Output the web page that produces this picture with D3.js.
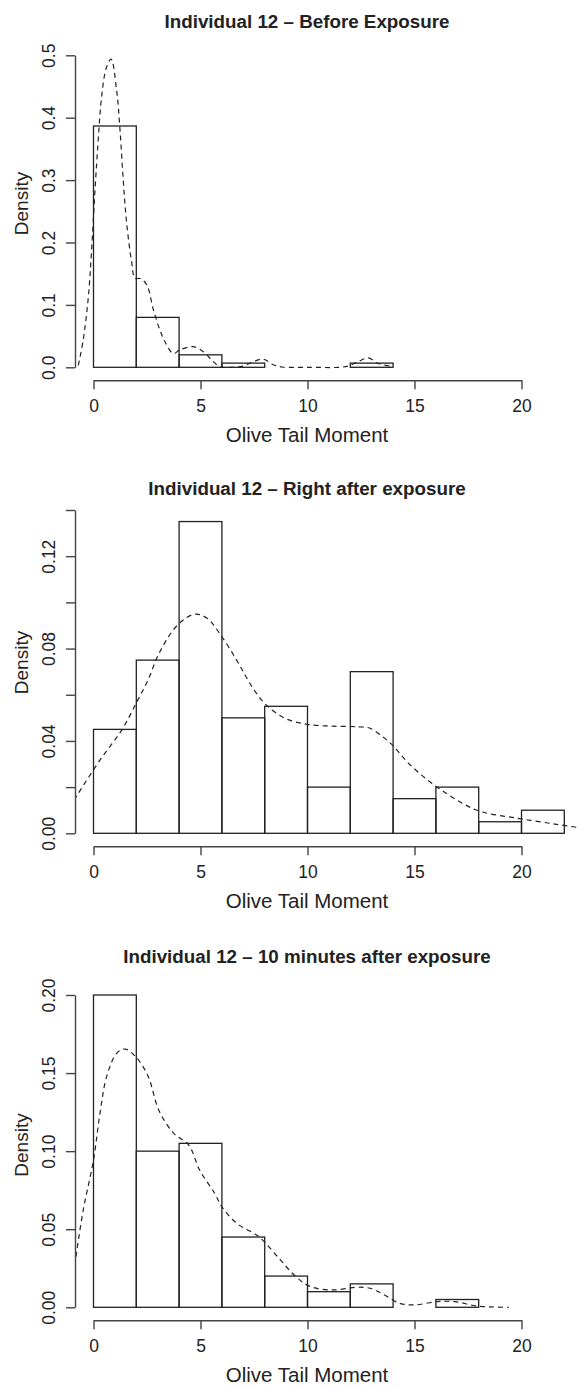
<!DOCTYPE html>
<html>
<head>
<meta charset="utf-8">
<script src="https://cdn.jsdelivr.net/npm/d3@7"></script>
<style>
body { margin: 0; background: #fff; }
text { font-family: "Liberation Sans", Arial, Helvetica, sans-serif; fill: #222; }
</style>
</head>
<body>
<svg id="chart" width="580" height="1387"></svg>
<script>
// histogram bins are 2 units wide, starting at 0
var binWidth = 2;
var xTicks = [0, 5, 10, 15, 20];

// panel 1 - before exposure
var title1 = "Individual 12 \u2013 Before Exposure";
var bars1 = [0.3867, 0.08, 0.02, 0.0067, 0, 0, 0.0067];
var kdeX1 = [-0.71, -0.48, -0.24, -0.08, 0.07, 0.22, 0.38, 0.6, 0.82, 1.08, 1.24, 1.39, 1.55, 1.79, 1.94, 2.2, 2.49, 2.8, 3.1, 3.34, 3.73, 4.04, 4.66, 5.13, 5.6, 5.91, 6.5, 7.0, 7.47, 7.93, 8.4, 8.8, 10, 11.5, 11.9, 12.36, 12.84, 13.3, 13.86];
var kdeY1 = [0.003, 0.044, 0.113, 0.193, 0.284, 0.364, 0.434, 0.48, 0.494, 0.444, 0.38, 0.30, 0.231, 0.167, 0.143, 0.142, 0.132, 0.092, 0.060, 0.041, 0.022, 0.028, 0.033, 0.025, 0.009, 0.001, 0, 0.002, 0.009, 0.013, 0.004, 0.0005, 0, 0, 0.002, 0.009, 0.015, 0.006, 0.002];
var yTicks1 = [0, 0.1, 0.2, 0.3, 0.4, 0.5];
var yLabels1 = ["0.0", "0.1", "0.2", "0.3", "0.4", "0.5"];

// panel 2 - right after exposure
var title2 = "Individual 12 \u2013 Right after exposure";
var bars2 = [0.045, 0.075, 0.135, 0.05, 0.055, 0.02, 0.07, 0.015, 0.02, 0.005, 0.01];
var kdeX2 = [-0.91, 0.3, 1.32, 2.03, 2.55, 3.06, 3.93, 4.74, 5.31, 6.0, 6.69, 7.13, 7.56, 8.08, 8.94, 9.98, 11.19, 12.4, 12.92, 13.61, 14.04, 14.65, 15.51, 16.37, 17.24, 18.1, 19.83, 21.56, 22.73];
var kdeY2 = [0.0144, 0.0317, 0.0447, 0.057, 0.0664, 0.0779, 0.0902, 0.0949, 0.0931, 0.0851, 0.075, 0.0678, 0.0613, 0.0555, 0.0498, 0.0472, 0.0464, 0.0461, 0.0455, 0.0411, 0.0375, 0.031, 0.0238, 0.018, 0.013, 0.0094, 0.0065, 0.004, 0.0024];
var yTicks2 = [0, 0.02, 0.04, 0.06, 0.08, 0.10, 0.12, 0.14];
var yLabels2 = ["0.00", "", "0.04", "", "0.08", "", "0.12", ""];

// panel 3 - 10 minutes after exposure
var title3 = "Individual 12 \u2013 10 minutes after exposure";
var bars3 = [0.20, 0.10, 0.105, 0.045, 0.02, 0.01, 0.015, 0, 0.005];
var kdeX3 = [-0.82, -0.48, 0.0, 0.3, 0.62, 1.08, 1.47, 2.0, 2.55, 3.06, 3.75, 4.45, 4.96, 5.66, 6.0, 6.69, 7.73, 8.6, 9.46, 10.15, 11.19, 12.22, 12.92, 13.6, 14.3, 14.99, 16.03, 16.89, 17.93, 19.4];
var kdeY3 = [0.0324, 0.0623, 0.0943, 0.124, 0.148, 0.1626, 0.1654, 0.160, 0.148, 0.126, 0.1114, 0.1039, 0.0879, 0.073, 0.0644, 0.0538, 0.0452, 0.0324, 0.0196, 0.0132, 0.0111, 0.0128, 0.0122, 0.0079, 0.0026, 0.0015, 0.0036, 0.0036, 0.0008, 0];
var yTicks3 = [0, 0.05, 0.10, 0.15, 0.20];
var yLabels3 = ["0.00", "0.05", "0.10", "0.15", "0.20"];

var xLabel = "Olive Tail Moment";
var yLabel = "Density";

var svg = d3.select("#chart");
var x = d3.scaleLinear().domain([0, 20]).range([93.5, 521.5]);
var axisX = 75;

// layout of each panel (pixel positions)
var layout = [
  {title: title1, bars: bars1, kx: kdeX1, ky: kdeY1, ticks: yTicks1, labels: yLabels1, zero: 367.3, top: 55.3, titleY: 28.3, ylabY: 203.5},
  {title: title2, bars: bars2, kx: kdeX2, ky: kdeY2, ticks: yTicks2, labels: yLabels2, zero: 833.3, top: 510, titleY: 495, ylabY: 662.5},
  {title: title3, bars: bars3, kx: kdeX3, ky: kdeY3, ticks: yTicks3, labels: yLabels3, zero: 1307.3, top: 995, titleY: 963.3, ylabY: 1145}
];

layout.forEach(function(p, k) {
  var yMax = p.ticks[p.ticks.length - 1];
  var y = d3.scaleLinear().domain([0, yMax]).range([p.zero, p.top]);
  var g = svg.append("g");

  // clip for the density line (plot region)
  var clipId = "clip" + k;
  svg.append("clipPath").attr("id", clipId)
    .append("rect")
    .attr("x", axisX).attr("y", p.top - 30)
    .attr("width", 580 - axisX).attr("height", p.zero + 12 - (p.top - 30));

  // bars
  g.selectAll("rect.bar").data(p.bars).enter().append("rect")
    .attr("class", "bar")
    .attr("x", function(d, i) { return x(i * binWidth); })
    .attr("width", function(d, i) { return x((i + 1) * binWidth) - x(i * binWidth); })
    .attr("y", function(d) { return y(d); })
    .attr("height", function(d) { return y(0) - y(d); })
    .attr("fill", "none")
    .attr("stroke", "#222")
    .attr("stroke-width", 1.3);

  // density curve
  var pts = p.kx.map(function(v, i) { return [v, p.ky[i]]; });
  var line = d3.line()
    .x(function(d) { return x(d[0]); })
    .y(function(d) { return y(d[1]); })
    .curve(d3.curveCatmullRom);
  g.append("path")
    .attr("d", line(pts))
    .attr("clip-path", "url(#" + clipId + ")")
    .attr("fill", "none")
    .attr("stroke", "#222")
    .attr("stroke-width", 1.2)
    .attr("stroke-dasharray", "5,4");

  // x axis
  var gx = g.append("g")
    .attr("transform", "translate(0," + (p.zero + 13) + ")")
    .call(d3.axisBottom(x).tickValues(xTicks).tickSize(9).tickPadding(10).tickSizeOuter(0));
  gx.attr("font-size", 17.5).attr("font-family", null);

  // y axis, labels rotated like R
  var gy = g.append("g")
    .attr("transform", "translate(" + axisX + ",0)")
    .call(d3.axisLeft(y).tickValues(p.ticks).tickSize(9).tickSizeOuter(0)
      .tickFormat(function(d, i) { return p.labels[i]; }));
  gy.attr("font-size", 17.5).attr("font-family", null);
  gy.selectAll(".tick text")
    .attr("transform", "rotate(-90)")
    .attr("text-anchor", "middle")
    .attr("x", 0).attr("y", -20).attr("dy", null);

  [gx, gy].forEach(function(a) {
    a.selectAll("path, line").attr("stroke", "#444").attr("stroke-width", 1.4);
    a.selectAll("text").attr("fill", "#222");
  });

  // titles and axis labels
  g.append("text")
    .attr("x", 307).attr("y", p.titleY)
    .attr("text-anchor", "middle")
    .attr("font-size", 18.8).attr("font-weight", "bold")
    .text(p.title);

  g.append("text")
    .attr("x", 307).attr("y", p.zero + 75)
    .attr("text-anchor", "middle")
    .attr("font-size", 20.5)
    .text(xLabel);

  g.append("text")
    .attr("transform", "translate(28," + p.ylabY + ") rotate(-90)")
    .attr("text-anchor", "middle")
    .attr("font-size", 19)
    .text(yLabel);
});
</script>
</body>
</html>
